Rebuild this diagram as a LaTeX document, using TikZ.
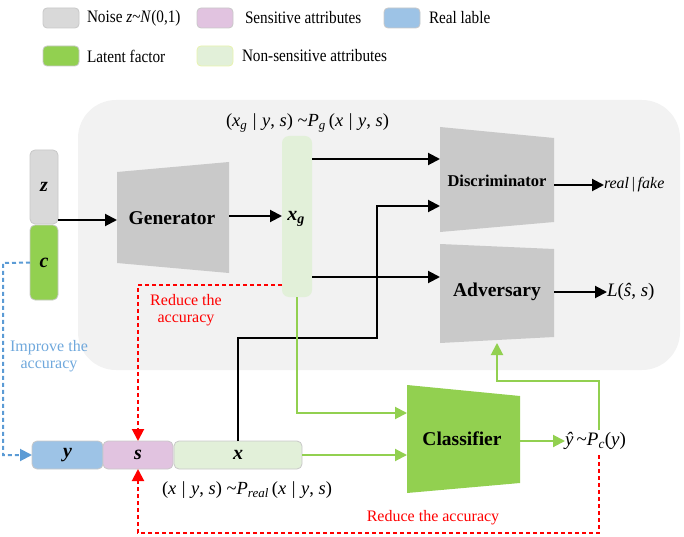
\documentclass[tikz,border=0pt]{standalone}
\usepackage{fontspec}
\usepackage{graphicx}
\setmainfont{Liberation Serif}[Ligatures=TeX]
\usetikzlibrary{arrows.meta,calc}
\definecolor{bgc}{HTML}{F2F2F2}
\definecolor{trapc}{HTML}{C9C9C9}
\definecolor{noisec}{HTML}{D9D9D9}
\definecolor{leaf}{HTML}{92D050}
\definecolor{paleg}{HTML}{E2F0D9}
\definecolor{skyc}{HTML}{9DC3E6}
\definecolor{pinkc}{HTML}{E1C3E0}
\definecolor{edgec}{HTML}{C8C8C8}
\definecolor{dblue}{HTML}{5B9BD5}
\definecolor{lblue}{HTML}{6FA8DC}
\definecolor{rred}{HTML}{FF0000}
\newcommand{\iv}[1]{\textit{#1}}
\newcommand{\sqz}[1]{\scalebox{0.87}[1]{#1}}
\newcommand{\bsep}{\hspace{0.3em}|\hspace{0.3em}}
\tikzset{
  every node/.style={inner sep=0pt, outer sep=0pt},
  bar/.style={draw=edgec, line width=0.8pt, rounded corners=5pt},
  lgd/.style={bar, minimum width=36pt, minimum height=20pt, rounded corners=4pt},
  lgdtxt/.style={anchor=west, font=\rmfamily\fontsize{17.5}{19}\selectfont},
  vartxt/.style={font=\rmfamily\fontsize{20}{22}\selectfont\bfseries\itshape},
  trapfill/.style={fill=trapc},
  boldlbl/.style={font=\rmfamily\fontsize{19.5}{21}\selectfont\bfseries},
  mathlbl/.style={font=\rmfamily\fontsize{18.5}{20}\selectfont},
  outlbl/.style={anchor=west, font=\rmfamily\fontsize{19}{21}\selectfont},
  blk/.style={line width=2pt, -{Triangle[length=12pt,width=12pt]}},
  grn/.style={line width=2pt, draw=leaf, -{Triangle[length=12pt,width=12pt]}, color=leaf},
  reddash/.style={line width=2pt, draw=rred, dash pattern=on 4pt off 3pt, -{Triangle[length=12pt,width=12pt]}, color=rred},
  bluedash/.style={line width=2pt, draw=dblue, dash pattern=on 4pt off 3pt, -{Triangle[length=12pt,width=12pt]}, color=dblue},
  note/.style={align=center, font=\rmfamily\fontsize{16}{17}\selectfont},
}
\begin{document}
\begin{tikzpicture}[x=1pt,y=-1pt]
\useasboundingbox (0,0) rectangle (684,537);
% background panel
\fill[bgc, rounded corners=38pt] (78,100) rectangle (680,370);

% legend
\node[lgd, fill=noisec] (lg1) at (61,18) {};
\node[lgdtxt] (lt1) at (87,18) {\sqz{Noise \iv{z}\textasciitilde\iv{N}(0,1)}};
\node[lgd, fill=pinkc] (lg2) at (215,18) {};
\node[lgdtxt] (lt2) at (245,18) {\sqz{Sensitive attributes}};
\node[lgd, fill=skyc] (lg3) at (402,18) {};
\node[lgdtxt] (lt3) at (429,18) {\sqz{Real lable}};
\node[lgd, fill=leaf] (lg4) at (61,56) {};
\node[lgdtxt] (lt4) at (87,56) {\sqz{Latent factor}};
\node[lgd, fill=paleg, draw=paleg!80!yellow] (lg5) at (215,56) {};
\node[lgdtxt] (lt5) at (242,56) {\sqz{Non-sensitive attributes}};

% z and c
\node[bar, fill=noisec, minimum width=28pt, minimum height=74pt] (z) at (44,187) {};
\node[vartxt] at (z) {z};
\node[bar, fill=leaf, minimum width=28pt, minimum height=75pt] (c) at (44,262.5) {};
\node[vartxt] at (c) {c};

% generator
\path[trapfill] (117,172) -- (229,162) -- (229,273) -- (117,263) -- cycle;
\node[boldlbl] (gen) at (172,218) {Generator};
\coordinate (genL) at (117,220);
\coordinate (genR) at (229,216);

% xg
\node[bar, draw=none, fill=paleg, minimum width=30pt, minimum height=161pt, rounded corners=7pt] (xg) at (297,216.5) {};
\node[vartxt] at (296,219) {x\textsubscript{g}};
\node[mathlbl] (xglbl) at (307.5,123) {(\iv{x}\textsubscript{\iv{g}}\bsep\iv{y}, \iv{s})~\textasciitilde\iv{P}\textsubscript{\iv{g}}\,(\iv{x}\bsep\iv{y}, \iv{s})};

% discriminator
\path[trapfill] (440,127) -- (554,138) -- (554,222) -- (440,232) -- cycle;
\node[font=\rmfamily\fontsize{16.5}{19}\selectfont\bfseries] (disc) at (497,181) {Discriminator};
% adversary
\path[trapfill] (440,244) -- (554,249) -- (554,337) -- (440,343) -- cycle;
\node[boldlbl] (adv) at (497,292) {Adversary};
% classifier
\path[fill=leaf] (407,385) -- (520,396) -- (520,483) -- (407,493) -- cycle;
\node[boldlbl] (cls) at (462,439) {Classifier};

% outputs
\node[anchor=west, font=\rmfamily\fontsize{16}{18}\selectfont] (rf) at (604,185) {\iv{real}\,|\,\iv{fake}};
\node[outlbl] (loss) at (607,292) {\iv{L}(\iv{ŝ}, \iv{s})};
\node[outlbl] (yhat) at (565,441) {\iv{ŷ}\,\textasciitilde\iv{P}\textsubscript{\iv{c}}(\iv{y})};

% bottom bars
\node[bar, fill=skyc, minimum width=71pt, minimum height=28pt] (y) at (67.5,455) {};
\node[vartxt] at (y) {y};
\node[bar, fill=pinkc, minimum width=70pt, minimum height=28pt] (s) at (138,455) {};
\node[vartxt] at (s) {s};
\node[bar, fill=paleg, minimum width=128pt, minimum height=28pt] (x) at (238,455) {};
\node[vartxt] at (x) {x};
\node[mathlbl] (xlbl) at (247,490) {(\iv{x}\bsep\iv{y}, \iv{s})~\textasciitilde\iv{P}\textsubscript{\iv{real}}\,(\iv{x}\bsep\iv{y}, \iv{s})};

% notes
\node[note, text=rred] (n1) at (186,310) {Reduce the\\accuracy};
\node[note, text=lblue] (n2) at (49,356) {Improve the\\accuracy};
\node[note, text=rred] (n3) at (433,518) {Reduce the accuracy};

% black arrows
\draw[blk] (z.south east |- genL) -- (genL);
\draw[blk] (genR) -- (genR -| xg.west);
\draw[blk] (xg.east |- 0,159) -- (440,159);
\draw[blk] (xg.east |- 0,277) -- (440,277);
\draw[blk] (x.north -| 238,0) -- (238,338) -- (377,338) -- (377,206) -- (440,206);
\draw[blk] (554,185) -- (rf.west);
\draw[blk] (554,292) -- (loss.west);

% green arrows
\draw[grn] (xg.south) -- (297,413) -- (407,413);
\draw[grn] (x.east) -- (407,455);
\draw[grn] (520,441) -- (yhat.west);
\draw[grn] (599,430) -- (599,381) -- (497,381) -- (497,343);

% dashed feedback
\draw[reddash] (xg.west |- 0,285) -- (138,285) -- (s.north);
\draw[reddash] (599,455) -- (599,533) -- (138,533) -- (s.south);
\draw[bluedash] (c.west) -- (3,263) -- (3,455) -- (y.west);
\end{tikzpicture}
\end{document}
